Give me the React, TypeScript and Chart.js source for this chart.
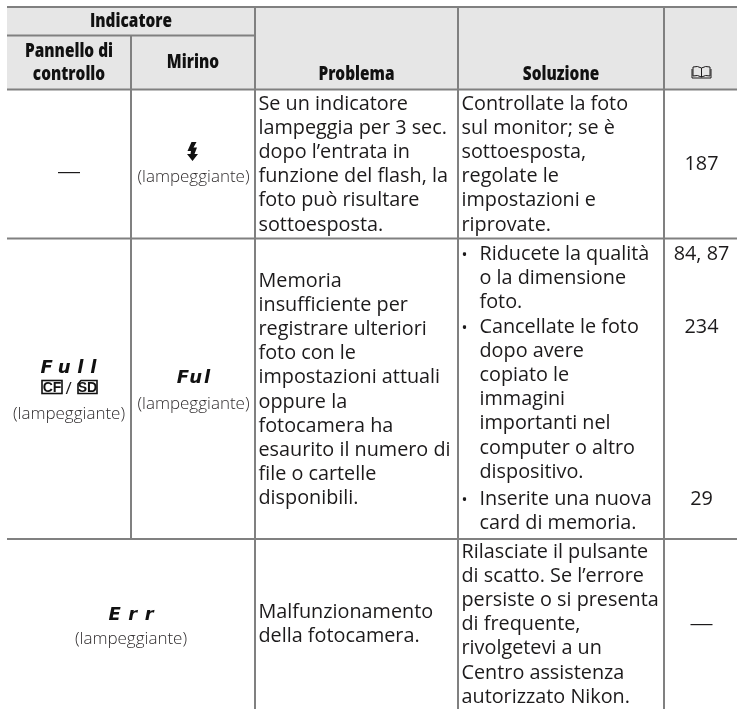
import React, { useEffect, useRef } from "react";
import { Chart, registerables } from "chart.js";

Chart.register(...registerables);

const WIDTH = 737;
const HEIGHT = 709;
const INK = "#1c1a1b";
const RULE = "#808080";
const HEAD_FILL = "#e6e6e6";

const columnEdges = [7, 131, 255, 458, 664, 737];
const rowEdges = [7, 35.5, 89.5, 238.5, 539, 709];

const headerTitle = "Indicatore";
const headerPanel = ["Pannello di", "controllo"];
const headerViewfinder = "Mirino";
const headerProblem = "Problema";
const headerSolution = "Soluzione";

const problem1 = ["Se un indicatore", "lampeggia per 3 sec.", "dopo l’entrata in", "funzione del flash, la", "foto può risultare", "sottoesposta."];
const solution1 = ["Controllate la foto", "sul monitor; se è", "sottoesposta,", "regolate le", "impostazioni e", "riprovate."];
const problem2 = ["Memoria", "insufficiente per", "registrare ulteriori", "foto con le", "impostazioni attuali", "oppure la", "fotocamera ha", "esaurito il numero di", "file o cartelle", "disponibili."];
const solution2 = ["Riducete la qualità", "o la dimensione", "foto.", "Cancellate le foto", "dopo avere", "copiato le", "immagini", "importanti nel", "computer o altro", "dispositivo.", "Inserite una nuova", "card di memoria."];
const bulletLines = [0, 3, 10];
const problem3 = ["Malfunzionamento", "della fotocamera."];
const solution3 = ["Rilasciate il pulsante", "di scatto. Se l’errore", "persiste o si presenta", "di frequente,", "rivolgetevi a un", "Centro assistenza", "autorizzato Nikon."];
const pages2 = ["84, 87", "234", "29"];
const pages2Lines = [0, 3, 10];
const blink = "(lampeggiante)";

const BODY = { font: '20px "Open Sans"', sx: 0.99, color: INK };
const HEAD = { font: '800 20px "Open Sans"', sx: 0.77, color: "#111" };
const NOTE = { font: '300 17px "Open Sans"', sx: 1, color: "#2e2b2c" };
const LCD = { font: 'italic bold 18px "DejaVu Sans"', sx: 1, color: "#111" };

type Style = { font: string; sx: number; color: string; spacing?: string };

function put(ctx: CanvasRenderingContext2D, s: string, x: number, y: number, st: Style, center = true) {
  ctx.save();
  ctx.font = st.font;
  ctx.fillStyle = st.color;
  const gap = parseFloat(st.spacing || "0");
  (ctx as any).letterSpacing = st.spacing || "0px";
  ctx.textBaseline = "alphabetic";
  ctx.textAlign = "left";
  const w = (ctx.measureText(s).width - gap) * st.sx;
  ctx.translate(center ? x - w / 2 : x, y);
  ctx.scale(st.sx, 1);
  ctx.fillText(s, 0, 0);
  ctx.restore();
}

const tablePlugin = {
  id: "tableText",
  afterDatasetsDraw(chart: any) {
    const { ctx, scales } = chart;
    const X = (v: number) => scales.x.getPixelForValue(v);
    const Y = (v: number) => scales.y.getPixelForValue(v);
    const mid = (a: number, b: number) => (X(columnEdges[a]) + X(columnEdges[b])) / 2;
    const LH = 24.2;
    const leftP = X(columnEdges[2]) + 3.5;
    const leftS = X(columnEdges[3]) + 3.5;
    const leftB = leftS + 18;
    const solY = (i: number) => 260 + i * LH + (i >= 10 ? 2.5 : 0);

    put(ctx, headerTitle, mid(0, 2), Y(27), HEAD);
    put(ctx, headerPanel[0], mid(0, 1), Y(56.5), HEAD);
    put(ctx, headerPanel[1], mid(0, 1), Y(80), HEAD);
    put(ctx, headerViewfinder, mid(1, 2), Y(68), HEAD);
    put(ctx, headerProblem, mid(2, 3), Y(80), HEAD);
    put(ctx, headerSolution, mid(3, 4), Y(80), HEAD);

    // book icon
    const bx = mid(4, 5) + 1;
    ctx.save();
    ctx.strokeStyle = INK;
    ctx.lineWidth = 1;
    ctx.beginPath();
    ctx.moveTo(bx, Y(68));
    ctx.quadraticCurveTo(bx - 4, Y(65.5), bx - 8.5, Y(67));
    ctx.lineTo(bx - 8.5, Y(76));
    ctx.quadraticCurveTo(bx - 4, Y(74.5), bx, Y(77));
    ctx.quadraticCurveTo(bx + 4, Y(74.5), bx + 8.5, Y(76));
    ctx.lineTo(bx + 8.5, Y(67));
    ctx.quadraticCurveTo(bx + 4, Y(65.5), bx, Y(68));
    ctx.lineTo(bx, Y(77));
    ctx.moveTo(bx - 9.5, Y(69));
    ctx.lineTo(bx - 9.5, Y(78));
    ctx.lineTo(bx + 9.5, Y(78));
    ctx.lineTo(bx + 9.5, Y(69));
    ctx.stroke();
    ctx.restore();

    problem1.forEach((s, i) => put(ctx, s, leftP, Y(109.5 + i * LH), BODY, false));
    solution1.forEach((s, i) => put(ctx, s, leftS, Y(109.5 + i * LH), BODY, false));
    problem2.forEach((s, i) => put(ctx, s, leftP, Y(286.5 + i * LH), BODY, false));
    solution2.forEach((s, i) => put(ctx, s, leftB, Y(solY(i)), BODY, false));
    bulletLines.forEach((i) => put(ctx, "•", leftS, Y(solY(i)), { ...BODY, font: '16px "Open Sans"' }, false));
    problem3.forEach((s, i) => put(ctx, s, leftP, Y(618 + i * LH), BODY, false));
    solution3.forEach((s, i) => put(ctx, s, leftS, Y(557.5 + i * LH), BODY, false));

    put(ctx, "187", mid(4, 5) + 1, Y(170), BODY);
    pages2.forEach((s, i) => put(ctx, s, mid(4, 5) + 1, Y(solY(pages2Lines[i])), BODY));

    const dash = (cx: number, cy: number) => {
      ctx.save();
      ctx.fillStyle = INK;
      ctx.fillRect(cx - 11, Y(cy), 22, 1.2);
      ctx.restore();
    };
    dash(mid(0, 1), 172);
    dash(mid(4, 5) + 1, 624);

    // flash icon
    const fx = mid(1, 2) - 0.5;
    ctx.save();
    ctx.fillStyle = "#111";
    ctx.beginPath();
    ctx.moveTo(fx - 1, Y(142));
    ctx.lineTo(fx - 5, Y(151));
    ctx.lineTo(fx - 1.5, Y(151));
    ctx.lineTo(fx - 2, Y(154));
    ctx.lineTo(fx - 5.5, Y(154));
    ctx.lineTo(fx, Y(161));
    ctx.lineTo(fx + 5.5, Y(154));
    ctx.lineTo(fx + 2, Y(154));
    ctx.lineTo(fx + 4.5, Y(147.5));
    ctx.lineTo(fx + 1, Y(147.5));
    ctx.lineTo(fx + 4, Y(142));
    ctx.closePath();
    ctx.fill();
    ctx.restore();
    put(ctx, blink, mid(1, 2) + 0.5, Y(182), NOTE);

    put(ctx, "Full", mid(0, 1) - 0.5, Y(373), { ...LCD, spacing: "6.7px" });
    put(ctx, blink, mid(0, 1), Y(419), NOTE);
    put(ctx, "Ful", mid(1, 2) + 0.5, Y(383), { ...LCD, spacing: "2px" });
    put(ctx, blink, mid(1, 2) + 0.5, Y(409), NOTE);

    // CF / SD badges
    const cx = mid(0, 1);
    const badgeFont = { font: 'bold 14px "Liberation Sans"', sx: 1, color: "#111" };
    ctx.save();
    ctx.strokeStyle = "#111";
    ctx.lineWidth = 1.6;
    ctx.strokeRect(cx - 27, Y(380.5), 20, 13);
    ctx.beginPath();
    ctx.moveTo(cx + 12, Y(380.5));
    ctx.lineTo(cx + 28, Y(380.5));
    ctx.lineTo(cx + 28, Y(393.5));
    ctx.lineTo(cx + 9, Y(393.5));
    ctx.lineTo(cx + 9, Y(384));
    ctx.closePath();
    ctx.stroke();
    ctx.restore();
    put(ctx, "CF", cx - 17, Y(392), badgeFont);
    put(ctx, "SD", cx + 18.5, Y(392), badgeFont);
    put(ctx, "/", cx - 0.5, Y(394), { font: '17px "Open Sans"', sx: 1, color: INK });

    put(ctx, "Err", mid(0, 2), Y(620), { ...LCD, spacing: "7.5px" });
    put(ctx, blink, mid(0, 2), Y(644), NOTE);
  },
};

function rule(data: { x: number; y: number }[]) {
  return { type: "line" as const, data, borderColor: RULE, borderWidth: 2, pointRadius: 0, fill: false, tension: 0, order: 1 };
}

export default function App() {
  const ref = useRef<HTMLCanvasElement>(null);
  useEffect(() => {
    const [c0, c1, c2, c3, c4, c5] = columnEdges;
    const [r0, r1, r2, r3, r4, r5] = rowEdges;
    const chart = new Chart(ref.current as HTMLCanvasElement, {
      type: "line",
      data: {
        datasets: [
          {
            data: [{ x: c0, y: r2 }, { x: c5, y: r2 }],
            borderWidth: 0,
            pointRadius: 0,
            backgroundColor: HEAD_FILL,
            fill: { value: r0 },
            order: 2,
          },
          rule([{ x: c0, y: r0 }, { x: c5, y: r0 }]),
          rule([{ x: c0, y: r1 }, { x: c2, y: r1 }]),
          rule([{ x: c0, y: r2 }, { x: c5, y: r2 }]),
          rule([{ x: c0, y: r3 }, { x: c5, y: r3 }]),
          rule([{ x: c0, y: r4 }, { x: c5, y: r4 }]),
          rule([{ x: c1, y: r1 }, { x: c1, y: r4 }]),
          rule([{ x: c2, y: r0 }, { x: c2, y: r5 }]),
          rule([{ x: c3, y: r0 }, { x: c3, y: r5 }]),
          rule([{ x: c4, y: r0 }, { x: c4, y: r5 }]),
        ] as any,
      },
      options: {
        animation: false,
        responsive: false,
        layout: { padding: 0 },
        parsing: false,
        plugins: { legend: { display: false }, tooltip: { enabled: false }, title: { display: false } },
        scales: {
          x: { type: "linear", min: 0, max: WIDTH, display: false },
          y: { type: "linear", min: 0, max: HEIGHT, reverse: true, display: false },
        },
      } as any,
      plugins: [tablePlugin],
    });
    return () => chart.destroy();
  }, []);
  return (
    <div style={{ position: "fixed", left: 0, top: 0, width: WIDTH, height: HEIGHT, background: "#fff" }}>
      <canvas ref={ref} width={WIDTH} height={HEIGHT} style={{ display: "block" }} />
    </div>
  );
}
